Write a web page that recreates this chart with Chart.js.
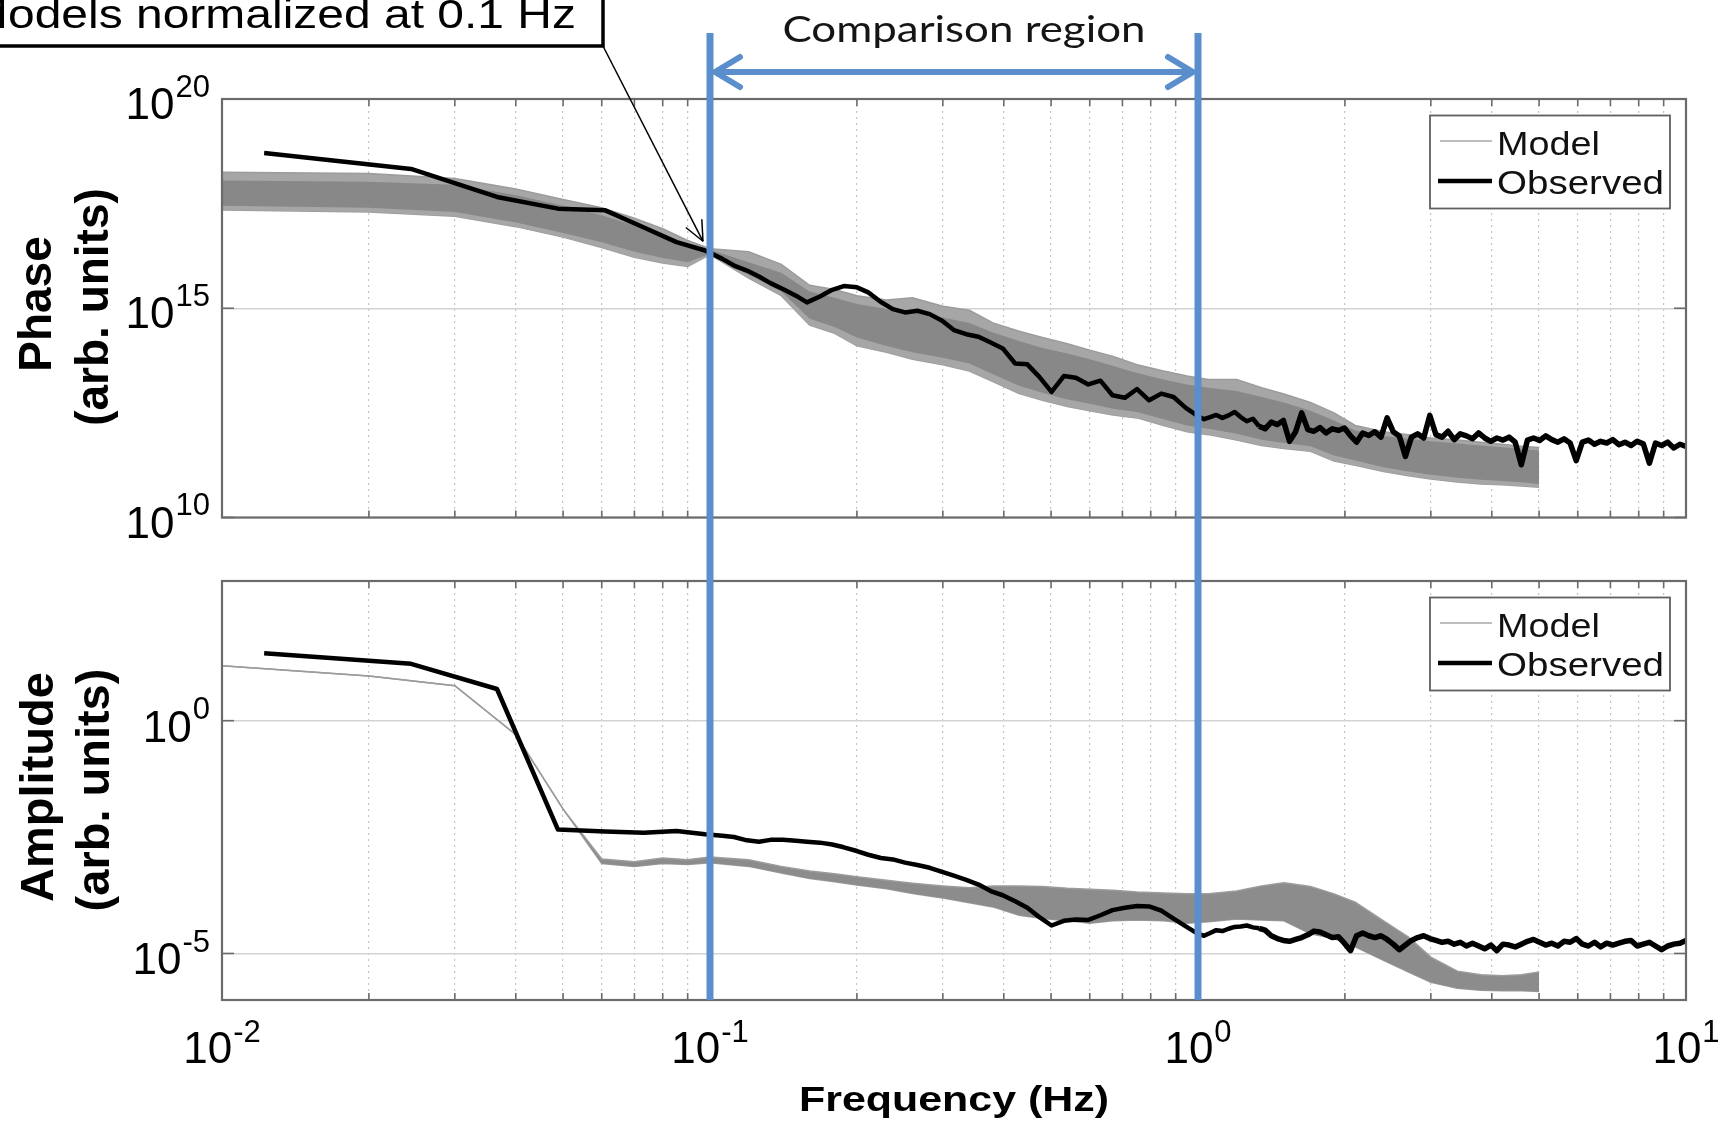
<!DOCTYPE html>
<html><head><meta charset="utf-8">
<script src="https://cdn.jsdelivr.net/npm/chart.js@4.4.1/dist/chart.umd.min.js"></script>
<style>
html,body{margin:0;padding:0;background:#fff;}
#wrap{position:relative;width:1719px;height:1124px;overflow:hidden;background:#fff;}
canvas{position:absolute;left:0;}
#cTop{top:0}
#cBot{top:549px}
</style></head><body>
<div id="wrap"><canvas id="cTop" width="1719" height="549"></canvas><canvas id="cBot" width="1719" height="575"></canvas></div>
<script>
// ---------------- DATA (values are log10 of the plotted quantity) ----------------
const obsFreq = [
  0.0122,0.0244,0.0366,0.0488,0.061,0.0732,0.0854,0.0977,
  0.106,0.112,0.119,0.126,0.133,0.141,0.150,0.158,0.168,0.178,
  0.188,0.200,0.211,0.224,0.237,0.251,0.266,0.282,0.299,0.316,
  0.335,0.355,0.376,0.398,0.422,0.447,0.473,0.501,0.531,0.562,
  0.596,0.631,0.668,0.708,0.750,0.794,0.841,0.891,0.944,
  1.000,1.029,1.059,1.090,1.122,1.155,1.189,1.223,1.259,1.296,
  1.334,1.372,1.413,1.454,1.496,1.540,1.585,1.631,1.679,1.728,
  1.778,1.830,1.884,1.939,1.995,2.054,2.113,2.175,2.239,2.304,
  2.371,2.441,2.512,2.585,2.661,2.738,2.818,2.901,2.985,3.073,
  3.162,3.255,3.350,3.447,3.548,3.652,3.758,3.868,3.981,4.097,
  4.217,4.340,4.467,4.597,4.732,4.870,5.012,5.158,5.309,5.464,
  5.623,5.788,5.957,6.131,6.310,6.494,6.683,6.879,7.079,7.286,
  7.499,7.718,7.943,8.175,8.414,8.660,8.913,9.173,9.441,9.716,
  10.00
];
const phaseObsExp = [
  18.71,18.33,17.66,17.38,17.34,16.93,16.58,16.38,
  16.18,16.02,15.90,15.76,15.60,15.46,15.30,15.14,15.28,15.44,
  15.53,15.50,15.38,15.15,14.98,14.90,14.94,14.86,14.70,14.48,
  14.38,14.32,14.18,14.04,13.68,13.66,13.36,13.00,13.38,13.34,
  13.18,13.27,12.92,12.86,13.07,12.80,12.96,12.88,12.62,
  12.42,12.35,12.40,12.45,12.38,12.44,12.52,12.40,12.30,12.36,
  12.18,12.12,12.28,12.22,12.32,11.82,12.05,12.50,12.10,12.06,
  12.15,12.02,12.12,12.08,12.14,11.95,11.80,12.02,11.96,12.05,
  11.92,12.38,12.05,11.95,11.46,11.92,12.00,11.90,12.44,11.98,
  11.92,12.06,11.86,12.00,11.95,11.88,12.02,11.90,11.82,11.90,
  11.85,11.92,11.80,11.26,11.85,11.90,11.84,11.95,11.86,11.80,
  11.88,11.78,11.36,11.80,11.85,11.75,11.82,11.78,11.86,11.74,
  11.80,11.72,11.82,11.76,11.30,11.78,11.72,11.80,11.66,11.75,
  11.70
];
const ampObsExp = [
  1.45,1.22,0.68,-2.34,-2.38,-2.41,-2.37,-2.44,
  -2.47,-2.50,-2.57,-2.60,-2.56,-2.56,-2.58,-2.60,-2.62,-2.66,
  -2.72,-2.80,-2.88,-2.95,-2.98,-3.05,-3.10,-3.16,-3.25,-3.33,
  -3.42,-3.52,-3.66,-3.75,-3.88,-4.02,-4.22,-4.40,-4.30,-4.27,
  -4.28,-4.18,-4.07,-4.02,-3.98,-3.99,-4.08,-4.25,-4.42,
  -4.58,-4.62,-4.56,-4.50,-4.52,-4.47,-4.43,-4.42,-4.40,-4.44,
  -4.46,-4.50,-4.62,-4.68,-4.72,-4.74,-4.70,-4.66,-4.60,-4.52,
  -4.54,-4.60,-4.66,-4.64,-4.78,-4.94,-4.62,-4.56,-4.62,-4.66,
  -4.62,-4.70,-4.80,-4.92,-4.82,-4.72,-4.66,-4.62,-4.68,-4.72,
  -4.76,-4.74,-4.80,-4.76,-4.84,-4.78,-4.84,-4.90,-4.82,-4.94,
  -4.80,-4.82,-4.86,-4.80,-4.74,-4.70,-4.76,-4.82,-4.78,-4.84,
  -4.74,-4.76,-4.68,-4.80,-4.84,-4.76,-4.86,-4.78,-4.82,-4.78,
  -4.74,-4.72,-4.84,-4.80,-4.76,-4.84,-4.92,-4.84,-4.80,-4.78,
  -4.72
];
const modelFreq = [0.01,0.02,0.03,0.04,0.05,0.06,0.07,0.08,0.09,0.1,
  0.12,0.14,0.16,0.18,0.2,0.23,0.26,0.3,0.34,0.38,
  0.43,0.48,0.54,0.6,0.67,0.75,0.85,0.95,1.05,1.2,
  1.35,1.5,1.7,1.9,2.1,2.4,2.7,3.0,3.4,3.8,
  4.2,4.6,5.0];
// outer envelope of the model ensemble (phase)
const phaseModelHiExp = [18.25,18.22,18.10,17.85,17.60,17.40,17.15,16.90,16.62,16.42,
  16.35,16.05,15.55,15.45,15.30,15.20,15.25,15.05,14.95,14.65,
  14.45,14.30,14.15,14.00,13.85,13.65,13.50,13.38,13.30,13.30,
  13.10,12.95,12.75,12.50,12.20,12.05,11.98,11.90,11.85,11.80,
  11.75,11.70,11.67];
const phaseModelLoExp = [17.35,17.30,17.20,16.95,16.70,16.45,16.22,16.08,16.00,16.28,
  15.72,15.30,14.60,14.40,14.10,13.95,13.78,13.65,13.50,13.25,
  12.96,12.80,12.65,12.55,12.45,12.38,12.20,12.05,11.98,11.85,
  11.72,11.65,11.58,11.35,11.25,11.10,11.00,10.92,10.85,10.80,
  10.78,10.75,10.72];
// dense core of the model ensemble (phase)
const phaseCoreHiExp = [18.05,18.02,17.95,17.70,17.45,17.22,16.98,16.75,16.52,16.40,
  16.10,15.85,15.40,15.25,15.10,14.98,14.90,14.78,14.65,14.42,
  14.22,14.05,13.92,13.78,13.62,13.45,13.30,13.18,13.10,13.02,
  12.88,12.75,12.55,12.32,12.08,11.95,11.88,11.82,11.77,11.72,
  11.68,11.64,11.60];
const phaseCoreLoExp = [17.45,17.40,17.30,17.05,16.80,16.58,16.35,16.20,16.10,16.30,
  15.80,15.40,14.75,14.55,14.30,14.10,13.95,13.82,13.68,13.42,
  13.15,12.98,12.82,12.72,12.60,12.52,12.35,12.20,12.12,12.00,
  11.86,11.78,11.70,11.48,11.36,11.20,11.10,11.02,10.95,10.90,
  10.87,10.84,10.80];
const ampModelHiExp = [1.18,0.96,0.75,-0.30,-1.90,-2.97,-3.03,-2.95,-2.99,-2.93,
  -2.99,-3.13,-3.23,-3.29,-3.35,-3.43,-3.49,-3.55,-3.59,-3.55,
  -3.55,-3.56,-3.60,-3.62,-3.64,-3.68,-3.70,-3.72,-3.72,-3.66,
  -3.55,-3.48,-3.56,-3.72,-3.90,-4.30,-4.65,-5.08,-5.38,-5.46,
  -5.48,-5.46,-5.40];
const ampModelLoExp = [1.18,0.96,0.75,-0.30,-1.90,-3.07,-3.13,-3.07,-3.09,-3.05,
  -3.13,-3.27,-3.39,-3.46,-3.53,-3.61,-3.71,-3.81,-3.91,-4.00,
  -4.18,-4.25,-4.30,-4.35,-4.30,-4.28,-4.30,-4.35,-4.32,-4.26,
  -4.28,-4.30,-4.58,-4.68,-4.86,-5.15,-5.40,-5.62,-5.75,-5.79,
  -5.80,-5.80,-5.82];
const freqTickExps = [-2,-1,0,1];
const phaseTickExps = [10,15,20];
const ampTickExps = [-5,0];
const seriesLabels = ['Model','Observed'];
const comparisonBand = [0.1, 1.0];
const normFreq = 0.1;
const annotationText = 'Models normalized at 0.1 Hz';
const regionText = 'Comparison region';

// ---------------- helpers ----------------
const SANS = '"Liberation Sans", Arial, Helvetica, sans-serif';
const BLUE = '#5a8ecc';
function pts(fs, es){ return fs.map((f,i)=>({x:f, y:Math.pow(10, es[i])})); }
function isMinor(v){
  const e = Math.floor(Math.log10(v) + 1e-9);
  const m = v / Math.pow(10, e);
  const r = Math.round(m);
  return Math.abs(m - r) < 1e-6 && r >= 2 && r <= 9;
}
function line(ctx,x1,y1,x2,y2){ ctx.beginPath(); ctx.moveTo(x1,y1); ctx.lineTo(x2,y2); ctx.stroke(); }
function fitText(ctx, text, x, y, font, targetW, align){
  ctx.save();
  ctx.font = font;
  const w0 = ctx.measureText(text).width;
  const sx = targetW / w0;
  let left = x;
  if (align === 'right') left = x - targetW;
  else if (align === 'center') left = x - targetW/2;
  ctx.translate(left, y);
  ctx.scale(sx, 1);
  ctx.textAlign = 'left'; ctx.textBaseline = 'alphabetic';
  ctx.fillText(text, 0, 0);
  ctx.restore();
}
function powLabel(ctx, exp, x, y, c, align){
  ctx.save();
  ctx.fillStyle = '#000';
  ctx.textAlign = 'left'; ctx.textBaseline = 'alphabetic';
  ctx.font = c.base + 'px ' + SANS;
  const wb = ctx.measureText('10').width;
  ctx.font = c.sup + 'px ' + SANS;
  const sup = String(exp);
  const ws = ctx.measureText(sup).width;
  const total = wb + ws + c.gap;
  const left = align === 'right' ? x - total : x - total/2;
  ctx.font = c.base + 'px ' + SANS; ctx.fillText('10', left, y);
  ctx.font = c.sup + 'px ' + SANS; ctx.fillText(sup, left + wb + c.gap, y - c.raise);
  ctx.restore();
}
function rotTitle(ctx, text, xBase, yCenter, size){
  ctx.save();
  ctx.translate(xBase, yCenter);
  ctx.rotate(-Math.PI/2);
  ctx.font = 'bold ' + size + 'px ' + SANS;
  ctx.fillStyle = '#000';
  ctx.textAlign = 'center'; ctx.textBaseline = 'alphabetic';
  ctx.fillText(text, 0, 0);
  ctx.restore();
}
function drawLegend(ctx, a){
  const bx = a.right - 256, by = a.top + 16.5, bw = 240, bh = 93;
  ctx.save();
  ctx.fillStyle = '#fff'; ctx.fillRect(bx, by, bw, bh);
  ctx.strokeStyle = '#5f5f5f'; ctx.lineWidth = 1.8; ctx.strokeRect(bx, by, bw, bh);
  ctx.strokeStyle = '#a8a8a8'; ctx.lineWidth = 1.6; line(ctx, bx+10, by+25.5, bx+62, by+25.5);
  ctx.strokeStyle = '#000'; ctx.lineWidth = 4.5; line(ctx, bx+8, by+65.5, bx+62, by+65.5);
  ctx.fillStyle = '#111';
  fitText(ctx, seriesLabels[0], bx+67, by+39, '33px ' + SANS, 103, 'left');
  fitText(ctx, seriesLabels[1], bx+67, by+78.5, '33px ' + SANS, 167, 'left');
  ctx.restore();
}
function drawFrame(chart, tickExps){
  const {ctx, chartArea:a, scales:{x, y}} = chart;
  ctx.save();
  ctx.strokeStyle = '#6b6b6b'; ctx.lineWidth = 1.6;
  for (let e = -2; e < 1; e++) {
    for (let m = 1; m <= 9; m++) {
      const px = x.getPixelForValue(m * Math.pow(10, e));
      const L = m === 1 ? 12 : 7;
      line(ctx, px, a.top, px, a.top + L);
      line(ctx, px, a.bottom, px, a.bottom - L);
    }
  }
  tickExps.forEach(e => {
    const py = y.getPixelForValue(Math.pow(10, e));
    line(ctx, a.left, py, a.left + 12, py);
    line(ctx, a.right, py, a.right - 12, py);
  });
  ctx.lineWidth = 2.2; ctx.strokeStyle = '#6b6b6b';
  ctx.strokeRect(a.left, a.top, a.right - a.left, a.bottom - a.top);
  ctx.restore();
}
function drawBlue(chart, y0, y1){
  const {ctx, scales:{x}} = chart;
  ctx.save();
  ctx.strokeStyle = BLUE; ctx.lineWidth = 7;
  comparisonBand.forEach(f => { const px = x.getPixelForValue(f); line(ctx, px, y0, px, y1); });
  ctx.restore();
}
const Y_LBL = {base:44, sup:31, raise:22.5, gap:1};
const X_LBL = {base:44, sup:31, raise:21.6, gap:1};

function makeChart(canvas, cfg){
  const ds = [
    {label: seriesLabels[1], data: pts(obsFreq, cfg.obs), borderColor:'#000', borderWidth:4.5, pointRadius:0, fill:false, order:0, tension:0, borderJoinStyle:'round',
     segment:{ borderWidth: c => (c.p0.parsed.x >= 1.3 ? 5.5 : 4.5) }}
  ];
  if (cfg.coreHi) {
    ds.push({label: seriesLabels[0], data: pts(modelFreq, cfg.coreHi), borderColor:'rgba(0,0,0,0)', borderWidth:0, backgroundColor:'#888888', fill:'+1', pointRadius:0, order:1, tension:0});
    ds.push({label: seriesLabels[0], data: pts(modelFreq, cfg.coreLo), borderColor:'rgba(0,0,0,0)', borderWidth:0, pointRadius:0, fill:false, order:2, tension:0});
  }
  ds.push({label: seriesLabels[0], data: pts(modelFreq, cfg.hi), borderColor:'#9c9c9c', borderWidth:1.5, backgroundColor: cfg.outerFill, fill:'+1', pointRadius:0, order:3, tension:0});
  ds.push({label: seriesLabels[0], data: pts(modelFreq, cfg.lo), borderColor:'#9c9c9c', borderWidth:1.5, pointRadius:0, fill:false, order:4, tension:0});
  return new Chart(canvas, {
    type: 'line',
    data: { datasets: ds },
    options: {
      responsive:false, animation:false, events:[],
      layout:{padding:{left:0, right:33, top:cfg.padTop, bottom:cfg.padBottom}},
      scales:{
        x:{type:'logarithmic', min:0.01, max:10, position:'bottom',
          ticks:{display:false, autoSkip:false},
          grid:{drawTicks:false, lineWidth:1.2, color: c => (c.tick && isMinor(c.tick.value)) ? '#c4c4c4' : 'rgba(0,0,0,0)'},
          border:{display:false, dash:[2,4]},
          afterFit: s => { s.height = 0; }},
        y:{type:'logarithmic', min:cfg.yMin, max:cfg.yMax, position:'left',
          ticks:{display:false, autoSkip:false},
          grid:{drawTicks:false, lineWidth:1.5, color: c => {
            if (!c.tick) return 'rgba(0,0,0,0)';
            const l = Math.log10(c.tick.value), r = Math.round(l);
            return (Math.abs(l - r) < 1e-6 && cfg.ticks.includes(r)) ? '#d3d3d3' : 'rgba(0,0,0,0)'; }},
          border:{display:false},
          afterFit: s => { s.width = 222; }}
      },
      plugins:{legend:{display:false}, tooltip:{enabled:false}}
    },
    plugins:[{
      id:'deco',
      afterDatasetsDraw(chart){ drawFrame(chart, cfg.ticks); },
      afterDraw(chart){ cfg.after(chart); }
    }]
  });
}

// ---------------- top panel: Phase ----------------
makeChart(document.getElementById('cTop'), {
  obs: phaseObsExp, hi: phaseModelHiExp, lo: phaseModelLoExp, coreHi: phaseCoreHiExp, coreLo: phaseCoreLoExp,
  outerFill: '#a6a6a6',
  yMin: 1e10, yMax: 1e20, ticks: phaseTickExps, padTop: 99, padBottom: 31.5,
  after(chart){
    const {ctx, chartArea:a, scales:{x, y}} = chart;
    drawBlue(chart, 33, chart.height);
    phaseTickExps.forEach(e => powLabel(ctx, e, 210, y.getPixelForValue(Math.pow(10,e)) + 20, Y_LBL, 'right'));
    rotTitle(ctx, 'Phase', 51, 304, 46);
    rotTitle(ctx, '(arb. units)', 108, 307, 46);
    drawLegend(ctx, a);
    // comparison region arrow
    const x1 = x.getPixelForValue(comparisonBand[0]), x2 = x.getPixelForValue(comparisonBand[1]);
    ctx.save();
    ctx.strokeStyle = BLUE; ctx.lineWidth = 6; ctx.lineCap = 'round'; ctx.lineJoin = 'round';
    const ay = 72;
    line(ctx, x1 + 6, ay, x2 - 6, ay);
    ctx.beginPath(); ctx.moveTo(x1 + 30, ay - 15); ctx.lineTo(x1 + 5, ay); ctx.lineTo(x1 + 30, ay + 15); ctx.stroke();
    ctx.beginPath(); ctx.moveTo(x2 - 30, ay - 15); ctx.lineTo(x2 - 5, ay); ctx.lineTo(x2 - 30, ay + 15); ctx.stroke();
    ctx.restore();
    ctx.fillStyle = '#151515';
    fitText(ctx, regionText, 964, 41.5, '37px Lato, "Open Sans", sans-serif', 363, 'center');
    // annotation box + arrow
    ctx.save();
    ctx.fillStyle = '#fff'; ctx.fillRect(-20, -20, 623, 66);
    ctx.strokeStyle = '#000'; ctx.lineWidth = 3.5; ctx.strokeRect(-20, -20, 623, 66);
    ctx.fillStyle = '#000';
    fitText(ctx, annotationText, 576, 28, '41px ' + SANS, 608, 'right');
    const tx = x.getPixelForValue(normFreq) - 7, ty = y.getPixelForValue(Math.pow(10, 16.6));
    const sx0 = 603, sy0 = 46;
    ctx.strokeStyle = '#000'; ctx.lineWidth = 1.5;
    line(ctx, sx0, sy0, tx, ty);
    const ang = Math.atan2(ty - sy0, tx - sx0), hl = 22, spread = 0.42;
    line(ctx, tx, ty, tx - hl*Math.cos(ang - spread), ty - hl*Math.sin(ang - spread));
    line(ctx, tx, ty, tx - hl*Math.cos(ang + spread), ty - hl*Math.sin(ang + spread));
    ctx.restore();
  }
});

// ---------------- bottom panel: Amplitude ----------------
makeChart(document.getElementById('cBot'), {
  obs: ampObsExp, hi: ampModelHiExp, lo: ampModelLoExp,
  outerFill: '#8c8c8c',
  yMin: 1e-6, yMax: 1e3, ticks: ampTickExps, padTop: 32, padBottom: 124,
  after(chart){
    const {ctx, chartArea:a, scales:{x, y}} = chart;
    drawBlue(chart, 0, a.bottom);
    ampTickExps.forEach(e => powLabel(ctx, e, 210, y.getPixelForValue(Math.pow(10,e)) + 21, Y_LBL, 'right'));
    freqTickExps.forEach(e => powLabel(ctx, e, x.getPixelForValue(Math.pow(10,e)), a.bottom + 63.3, X_LBL, 'center'));
    rotTitle(ctx, 'Amplitude', 53, 238, 47);
    rotTitle(ctx, '(arb. units)', 109, 241, 47);
    ctx.fillStyle = '#000';
    fitText(ctx, 'Frequency (Hz)', (a.left + a.right)/2, a.bottom + 110.5, 'bold 35px ' + SANS, 310, 'center');
    drawLegend(ctx, a);
  }
});
</script>
</body></html>
